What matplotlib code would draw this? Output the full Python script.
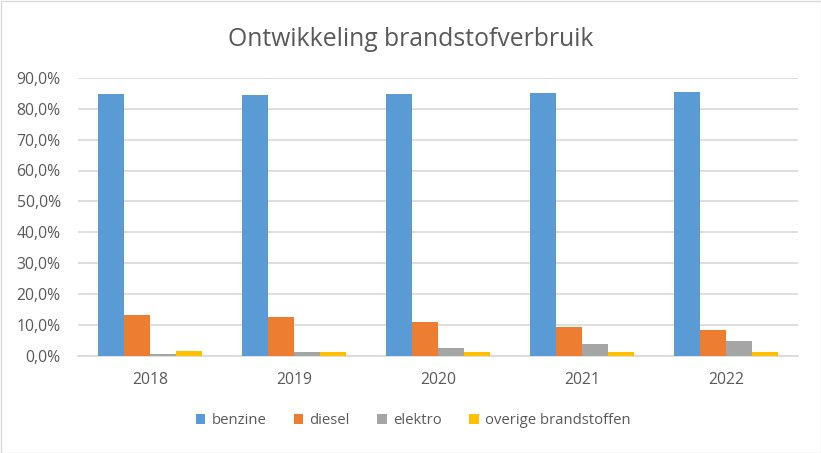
import matplotlib
matplotlib.use("Agg")
import matplotlib.pyplot as plt
import numpy as np
from matplotlib.ticker import FuncFormatter
from matplotlib.patches import Rectangle

years = ["2018", "2019", "2020", "2021", "2022"]
series_names = ["benzine", "diesel", "elektro", "overige brandstoffen"]
benzine = [84.8, 84.4, 84.8, 85.1, 85.4]
diesel = [13.0, 12.5, 10.9, 9.3, 8.3]
elektro = [0.5, 1.2, 2.5, 3.8, 4.8]
overige = [1.5, 1.2, 1.2, 1.2, 1.2]
colors = ["#5B9BD5", "#ED7D31", "#A5A5A5", "#FFC000"]

plt.rcParams['font.family'] = ['Open Sans', 'DejaVu Sans']

W, H = 821, 453
fig = plt.figure(figsize=(W/100, H/100), dpi=100)
ax = fig.add_axes([78/W, 1-355.5/H, 720/W, (355.5-78)/H])

x = np.arange(len(years))
bw = 0.18
data = [benzine, diesel, elektro, overige]
for i, (vals, c, n) in enumerate(zip(data, colors, series_names)):
    ax.bar(x + (i-1.5)*bw, vals, width=bw, color=c, label=n, zorder=3)

ax.set_xlim(-0.5, len(years)-0.5)
ax.set_ylim(0, 90)
ax.set_yticks(np.arange(0, 91, 10))
ax.yaxis.set_major_formatter(FuncFormatter(lambda v, p: f"{v:.1f}%".replace(".", ",")))
ax.set_xticks(x)
ax.set_xticklabels(years)
ax.grid(axis='y', color='#D9D9D9', linewidth=1.2, zorder=0)
for s in ['top', 'right', 'left']:
    ax.spines[s].set_visible(False)
ax.spines['bottom'].set_color('#D9D9D9')
ax.spines['bottom'].set_linewidth(1.2)
ax.tick_params(axis='both', length=0, labelsize=11.3, colors='#595959')
ax.tick_params(axis='x', pad=12)
ax.tick_params(axis='y', pad=12.5)

fig.text(411/W, 1-39/H, "Ontwikkeling brandstofverbruik", ha='center', va='center',
         fontsize=17.8, color='#595959')

leg = fig.legend(loc='center', bbox_to_anchor=(413/W, 1-421/H), ncol=4, frameon=False,
                 fontsize=10.7, labelcolor='#595959', handlelength=0.65, handleheight=0.65,
                 handletextpad=0.4, columnspacing=1.85)

fig.patches.append(Rectangle((0.5/W, 0.5/H), 1-1/W, 1-1/H, transform=fig.transFigure,
                             fill=False, edgecolor='#D9D9D9', linewidth=1))

fig.savefig("out.png", dpi=100, facecolor='white')
